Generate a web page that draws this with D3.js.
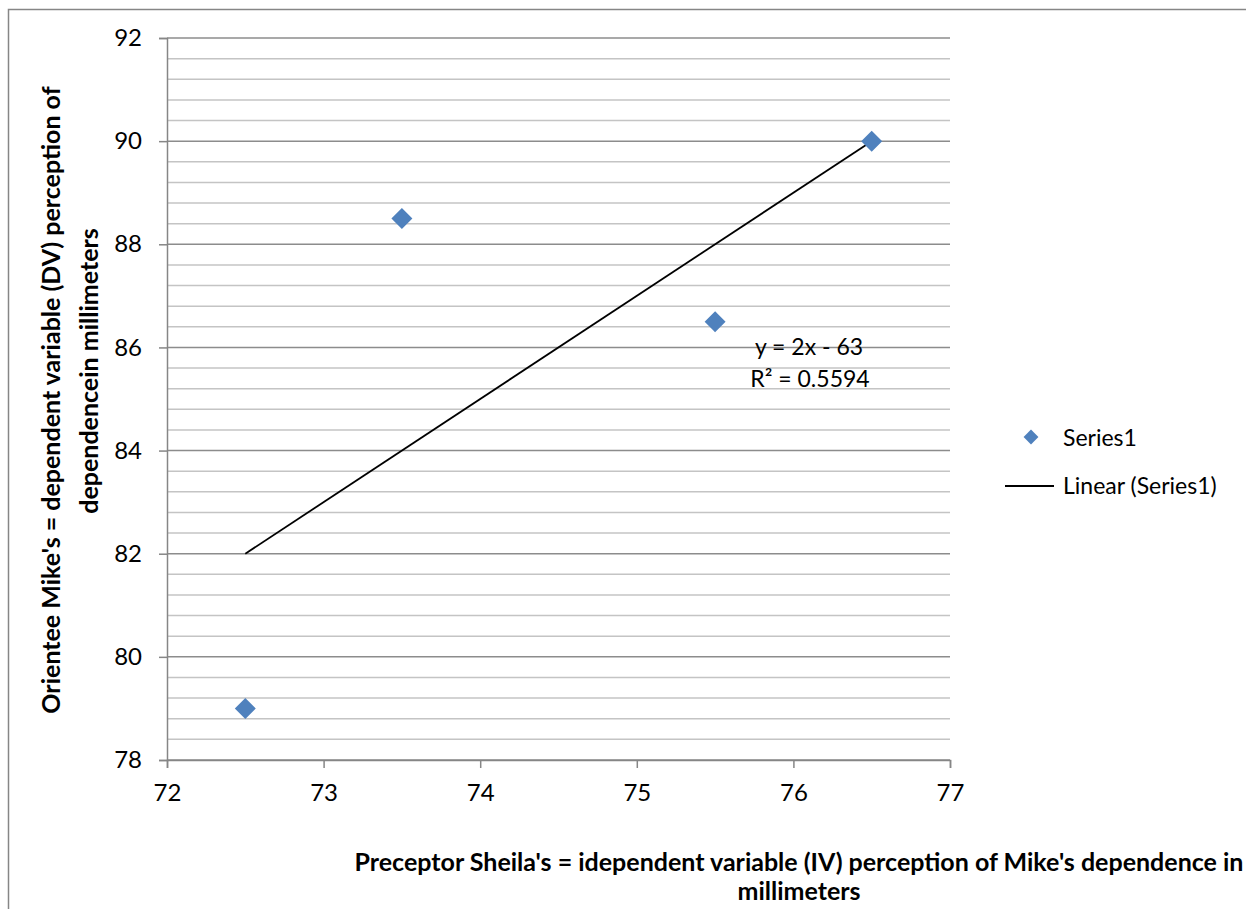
<!DOCTYPE html>
<html>
<head>
<meta charset="utf-8">
<script src="https://cdn.jsdelivr.net/npm/d3@7"></script>
<style>
  body { margin: 0; background: #fff; }
  svg { display: block; font-family: Lato, 'Open Sans', sans-serif; }
</style>
</head>
<body>
<script>
// data
let xValues = [72.5, 73.5, 75.5, 76.5]
let yValues = [79, 88.5, 86.5, 90]
let xTicks = [72, 73, 74, 75, 76, 77]
let yTicks = [78, 80, 82, 84, 86, 88, 90, 92]
// trendline as printed on the chart
let slope = 2
let intercept = -63
let eqLabel = 'y = 2x - 63'
let r2Label = 'R² = 0.5594'
let seriesName = 'Series1'
let trendName = 'Linear (Series1)'
let xTitle = ["Preceptor Sheila's = idependent variable (IV) perception of Mike's dependence in", 'millimeters']
let yTitle = ["Orientee Mike's = dependent variable (DV) perception of", 'dependencein millimeters']

let width = 1246
let height = 909
let plot = { left: 167, right: 950, top: 38, bottom: 760 }
let blue = '#4f81bd'

let svg = d3.select('body').append('svg')
  .attr('width', width)
  .attr('height', height)

// outer chart frame (runs off the right and bottom edges)
svg.append('rect')
  .attr('x', 8.5).attr('y', 9.5)
  .attr('width', 1300).attr('height', 1000)
  .attr('fill', 'white')
  .attr('stroke', '#868686')
  .attr('stroke-width', 1.5)

let x = d3.scaleLinear().domain([72, 77]).range([plot.left, plot.right])
let y = d3.scaleLinear().domain([78, 92]).range([plot.bottom, plot.top])

// minor gridlines every 0.4, major every 2
let minor = d3.range(78, 92.001, 0.4).filter(v => Math.abs(v / 2 - Math.round(v / 2)) > 0.01)
svg.append('g').selectAll('line')
  .data(minor)
  .join('line')
  .attr('x1', plot.left).attr('x2', plot.right)
  .attr('y1', d => y(d)).attr('y2', d => y(d))
  .attr('stroke', '#c4c4c4')
  .attr('stroke-width', 1.5)
svg.append('g').selectAll('line')
  .data(yTicks)
  .join('line')
  .attr('x1', plot.left).attr('x2', plot.right)
  .attr('y1', d => y(d)).attr('y2', d => y(d))
  .attr('stroke', '#8c8c8c')
  .attr('stroke-width', 1.5)

// axes
let yAxis = d3.axisLeft(y).tickValues(yTicks).tickSize(8).tickPadding(17).tickFormat(d3.format('d'))
let xAxis = d3.axisBottom(x).tickValues(xTicks).tickSize(8).tickPadding(16).tickFormat(d3.format('d'))
let gy = svg.append('g').attr('transform', `translate(${plot.left},0)`).call(yAxis)
let gx = svg.append('g').attr('transform', `translate(0,${plot.bottom})`).call(xAxis)
for (let g of [gx, gy]) {
  g.select('.domain').attr('stroke', '#868686').attr('stroke-width', 1.5)
  g.selectAll('.tick line').attr('stroke', '#868686').attr('stroke-width', 1.5)
  g.selectAll('.tick text').attr('fill', '#000').style('font-size', '24px').style('font-family', 'Lato')
}

// trendline over the data range
let xr = d3.extent(xValues)
svg.append('line')
  .attr('x1', x(xr[0])).attr('y1', y(slope * xr[0] + intercept))
  .attr('x2', x(xr[1])).attr('y2', y(slope * xr[1] + intercept))
  .attr('stroke', '#000')
  .attr('stroke-width', 1.8)

// points
let diamond = d3.symbol().type(d3.symbolSquare).size(220)
svg.append('g').selectAll('path')
  .data(xValues.map((v, i) => [v, yValues[i]]))
  .join('path')
  .attr('d', diamond)
  .attr('transform', d => `translate(${x(d[0])},${y(d[1])}) rotate(45)`)
  .attr('fill', blue)

// equation label
svg.append('text')
  .attr('x', 809).attr('y', 355)
  .attr('text-anchor', 'middle')
  .style('font-size', '23px')
  .text(eqLabel)
svg.append('text')
  .attr('x', 810).attr('y', 387)
  .attr('text-anchor', 'middle')
  .style('font-size', '23px')
  .text(r2Label)

// legend
let legend = svg.append('g')
legend.append('path')
  .attr('d', d3.symbol().type(d3.symbolSquare).size(110))
  .attr('transform', 'translate(1031,437) rotate(45)')
  .attr('fill', blue)
legend.append('text')
  .attr('x', 1063).attr('y', 446)
  .style('font-size', '23px')
  .text(seriesName)
legend.append('line')
  .attr('x1', 1005).attr('x2', 1054)
  .attr('y1', 486).attr('y2', 486)
  .attr('stroke', '#000')
  .attr('stroke-width', 1.8)
legend.append('text')
  .attr('x', 1063).attr('y', 494)
  .style('font-size', '23px')
  .text(trendName)

// axis titles
svg.append('text')
  .attr('x', 799).attr('y', 871)
  .attr('text-anchor', 'middle')
  .style('font-size', '25px')
  .style('font-weight', 'bold')
  .text(xTitle[0])
svg.append('text')
  .attr('x', 799).attr('y', 900)
  .attr('text-anchor', 'middle')
  .style('font-size', '25px')
  .style('font-weight', 'bold')
  .text(xTitle[1])

svg.append('text')
  .attr('transform', 'translate(60,400) rotate(-90)')
  .attr('text-anchor', 'middle')
  .style('font-size', '25px')
  .style('font-weight', 'bold')
  .text(yTitle[0])
svg.append('text')
  .attr('transform', 'translate(98,371) rotate(-90)')
  .attr('text-anchor', 'middle')
  .style('font-size', '25px')
  .style('font-weight', 'bold')
  .text(yTitle[1])
</script>
</body>
</html>
